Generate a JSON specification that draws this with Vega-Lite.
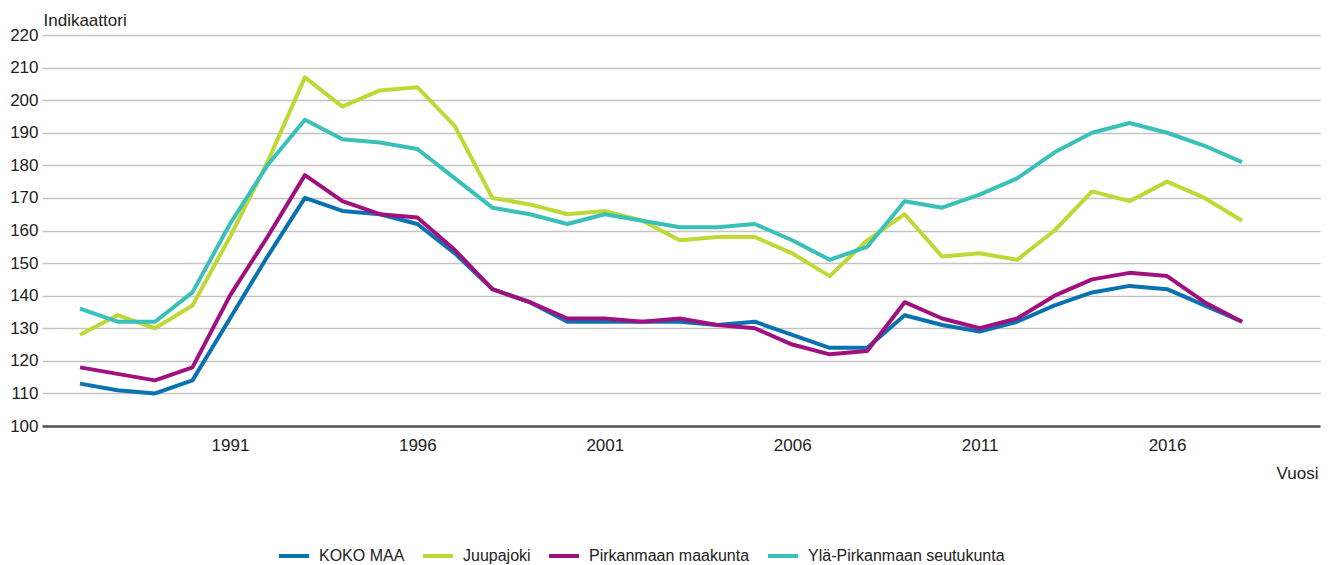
{
  "$schema": "https://vega.github.io/schema/vega-lite/v6.json",
  "width": 1278,
  "height": 391,
  "autosize": "none",
  "padding": {"left": 42, "top": 35, "right": 13, "bottom": 139},
  "background": "white",
  "config": {
    "view": {"stroke": null},
    "font": "Liberation Sans",
    "axis": {"labelFont": "Liberation Sans", "titleFont": "Liberation Sans", "labelColor": "#222", "titleColor": "#222", "titleFontWeight": "normal"},
    "legend": {"labelFont": "Liberation Sans"}
  },
  "datasets": {
    "d": [
      {"v":"KOKO MAA","y":1987,"i":113},{"v":"KOKO MAA","y":1988,"i":111},{"v":"KOKO MAA","y":1989,"i":110},{"v":"KOKO MAA","y":1990,"i":114},{"v":"KOKO MAA","y":1991,"i":133},{"v":"KOKO MAA","y":1992,"i":152},{"v":"KOKO MAA","y":1993,"i":170},{"v":"KOKO MAA","y":1994,"i":166},{"v":"KOKO MAA","y":1995,"i":165},{"v":"KOKO MAA","y":1996,"i":162},{"v":"KOKO MAA","y":1997,"i":153},{"v":"KOKO MAA","y":1998,"i":142},{"v":"KOKO MAA","y":1999,"i":138},{"v":"KOKO MAA","y":2000,"i":132},{"v":"KOKO MAA","y":2001,"i":132},{"v":"KOKO MAA","y":2002,"i":132},{"v":"KOKO MAA","y":2003,"i":132},{"v":"KOKO MAA","y":2004,"i":131},{"v":"KOKO MAA","y":2005,"i":132},{"v":"KOKO MAA","y":2006,"i":128},{"v":"KOKO MAA","y":2007,"i":124},{"v":"KOKO MAA","y":2008,"i":124},{"v":"KOKO MAA","y":2009,"i":134},{"v":"KOKO MAA","y":2010,"i":131},{"v":"KOKO MAA","y":2011,"i":129},{"v":"KOKO MAA","y":2012,"i":132},{"v":"KOKO MAA","y":2013,"i":137},{"v":"KOKO MAA","y":2014,"i":141},{"v":"KOKO MAA","y":2015,"i":143},{"v":"KOKO MAA","y":2016,"i":142},{"v":"KOKO MAA","y":2017,"i":137},{"v":"KOKO MAA","y":2018,"i":132},
      {"v":"Juupajoki","y":1987,"i":128},{"v":"Juupajoki","y":1988,"i":134},{"v":"Juupajoki","y":1989,"i":130},{"v":"Juupajoki","y":1990,"i":137},{"v":"Juupajoki","y":1991,"i":158},{"v":"Juupajoki","y":1992,"i":181},{"v":"Juupajoki","y":1993,"i":207},{"v":"Juupajoki","y":1994,"i":198},{"v":"Juupajoki","y":1995,"i":203},{"v":"Juupajoki","y":1996,"i":204},{"v":"Juupajoki","y":1997,"i":192},{"v":"Juupajoki","y":1998,"i":170},{"v":"Juupajoki","y":1999,"i":168},{"v":"Juupajoki","y":2000,"i":165},{"v":"Juupajoki","y":2001,"i":166},{"v":"Juupajoki","y":2002,"i":163},{"v":"Juupajoki","y":2003,"i":157},{"v":"Juupajoki","y":2004,"i":158},{"v":"Juupajoki","y":2005,"i":158},{"v":"Juupajoki","y":2006,"i":153},{"v":"Juupajoki","y":2007,"i":146},{"v":"Juupajoki","y":2008,"i":157},{"v":"Juupajoki","y":2009,"i":165},{"v":"Juupajoki","y":2010,"i":152},{"v":"Juupajoki","y":2011,"i":153},{"v":"Juupajoki","y":2012,"i":151},{"v":"Juupajoki","y":2013,"i":160},{"v":"Juupajoki","y":2014,"i":172},{"v":"Juupajoki","y":2015,"i":169},{"v":"Juupajoki","y":2016,"i":175},{"v":"Juupajoki","y":2017,"i":170},{"v":"Juupajoki","y":2018,"i":163},
      {"v":"Pirkanmaan maakunta","y":1987,"i":118},{"v":"Pirkanmaan maakunta","y":1988,"i":116},{"v":"Pirkanmaan maakunta","y":1989,"i":114},{"v":"Pirkanmaan maakunta","y":1990,"i":118},{"v":"Pirkanmaan maakunta","y":1991,"i":140},{"v":"Pirkanmaan maakunta","y":1992,"i":158},{"v":"Pirkanmaan maakunta","y":1993,"i":177},{"v":"Pirkanmaan maakunta","y":1994,"i":169},{"v":"Pirkanmaan maakunta","y":1995,"i":165},{"v":"Pirkanmaan maakunta","y":1996,"i":164},{"v":"Pirkanmaan maakunta","y":1997,"i":154},{"v":"Pirkanmaan maakunta","y":1998,"i":142},{"v":"Pirkanmaan maakunta","y":1999,"i":138},{"v":"Pirkanmaan maakunta","y":2000,"i":133},{"v":"Pirkanmaan maakunta","y":2001,"i":133},{"v":"Pirkanmaan maakunta","y":2002,"i":132},{"v":"Pirkanmaan maakunta","y":2003,"i":133},{"v":"Pirkanmaan maakunta","y":2004,"i":131},{"v":"Pirkanmaan maakunta","y":2005,"i":130},{"v":"Pirkanmaan maakunta","y":2006,"i":125},{"v":"Pirkanmaan maakunta","y":2007,"i":122},{"v":"Pirkanmaan maakunta","y":2008,"i":123},{"v":"Pirkanmaan maakunta","y":2009,"i":138},{"v":"Pirkanmaan maakunta","y":2010,"i":133},{"v":"Pirkanmaan maakunta","y":2011,"i":130},{"v":"Pirkanmaan maakunta","y":2012,"i":133},{"v":"Pirkanmaan maakunta","y":2013,"i":140},{"v":"Pirkanmaan maakunta","y":2014,"i":145},{"v":"Pirkanmaan maakunta","y":2015,"i":147},{"v":"Pirkanmaan maakunta","y":2016,"i":146},{"v":"Pirkanmaan maakunta","y":2017,"i":138},{"v":"Pirkanmaan maakunta","y":2018,"i":132},
      {"v":"Ylä-Pirkanmaan seutukunta","y":1987,"i":136},{"v":"Ylä-Pirkanmaan seutukunta","y":1988,"i":132},{"v":"Ylä-Pirkanmaan seutukunta","y":1989,"i":132},{"v":"Ylä-Pirkanmaan seutukunta","y":1990,"i":141},{"v":"Ylä-Pirkanmaan seutukunta","y":1991,"i":162},{"v":"Ylä-Pirkanmaan seutukunta","y":1992,"i":180},{"v":"Ylä-Pirkanmaan seutukunta","y":1993,"i":194},{"v":"Ylä-Pirkanmaan seutukunta","y":1994,"i":188},{"v":"Ylä-Pirkanmaan seutukunta","y":1995,"i":187},{"v":"Ylä-Pirkanmaan seutukunta","y":1996,"i":185},{"v":"Ylä-Pirkanmaan seutukunta","y":1997,"i":176},{"v":"Ylä-Pirkanmaan seutukunta","y":1998,"i":167},{"v":"Ylä-Pirkanmaan seutukunta","y":1999,"i":165},{"v":"Ylä-Pirkanmaan seutukunta","y":2000,"i":162},{"v":"Ylä-Pirkanmaan seutukunta","y":2001,"i":165},{"v":"Ylä-Pirkanmaan seutukunta","y":2002,"i":163},{"v":"Ylä-Pirkanmaan seutukunta","y":2003,"i":161},{"v":"Ylä-Pirkanmaan seutukunta","y":2004,"i":161},{"v":"Ylä-Pirkanmaan seutukunta","y":2005,"i":162},{"v":"Ylä-Pirkanmaan seutukunta","y":2006,"i":157},{"v":"Ylä-Pirkanmaan seutukunta","y":2007,"i":151},{"v":"Ylä-Pirkanmaan seutukunta","y":2008,"i":155},{"v":"Ylä-Pirkanmaan seutukunta","y":2009,"i":169},{"v":"Ylä-Pirkanmaan seutukunta","y":2010,"i":167},{"v":"Ylä-Pirkanmaan seutukunta","y":2011,"i":171},{"v":"Ylä-Pirkanmaan seutukunta","y":2012,"i":176},{"v":"Ylä-Pirkanmaan seutukunta","y":2013,"i":184},{"v":"Ylä-Pirkanmaan seutukunta","y":2014,"i":190},{"v":"Ylä-Pirkanmaan seutukunta","y":2015,"i":193},{"v":"Ylä-Pirkanmaan seutukunta","y":2016,"i":190},{"v":"Ylä-Pirkanmaan seutukunta","y":2017,"i":186},{"v":"Ylä-Pirkanmaan seutukunta","y":2018,"i":181}
    ]
  },
  "data": {"name": "d"},
  "mark": {"type": "line", "strokeWidth": 4, "strokeJoin": "round"},
  "encoding": {
    "x": {
      "field": "y", "type": "quantitative",
      "scale": {"domain": [1985.986, 2020.08], "nice": false, "zero": false},
      "axis": {
        "values": [1991, 1996, 2001, 2006, 2011, 2016],
        "format": "d",
        "grid": false,
        "ticks": false,
        "labelPadding": 11,
        "labelFontSize": 17,
        "labelFlush": false,
        "domainColor": "#555",
        "domainWidth": 2.5,
        "title": "Vuosi",
        "titleFontSize": 17,
        "titleAlign": "right",
        "titleAnchor": null,
        "titleX": 1276,
        "titleY": 47,
        "titleBaseline": "middle"
      }
    },
    "y": {
      "field": "i", "type": "quantitative",
      "scale": {"domain": [100, 220], "nice": false, "zero": false},
      "axis": {
        "values": [100,110,120,130,140,150,160,170,180,190,200,210,220],
        "grid": true,
        "gridColor": "#c4c4c4",
        "gridWidth": 1.5,
        "domain": false,
        "ticks": false,
        "labelPadding": 4,
        "labelFontSize": 17,
        "title": "Indikaattori",
        "titleFontSize": 17,
        "titleAngle": 0,
        "titleAlign": "left",
        "titleAnchor": null,
        "titleX": 1,
        "titleY": -15,
        "titleBaseline": "middle"
      }
    },
    "color": {
      "field": "v", "type": "nominal",
      "scale": {
        "domain": ["KOKO MAA", "Juupajoki", "Pirkanmaan maakunta", "Ylä-Pirkanmaan seutukunta"],
        "range": ["#0a72b0", "#bfd836", "#a0117f", "#39c0b9"]
      },
      "legend": {
        "title": null,
        "orient": "none",
        "direction": "horizontal",
        "legendX": 235,
        "legendY": 504,
        "symbolType": "stroke",
        "symbolSize": 900,
        "symbolStrokeWidth": 4,
        "labelFontSize": 16,
        "labelLimit": 400,
        "labelColor": "#222",
        "labelOffset": 8,
        "columnPadding": 10
      }
    }
  }
}
